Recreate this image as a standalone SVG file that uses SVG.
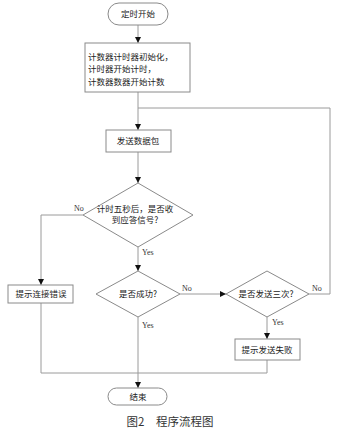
<svg xmlns="http://www.w3.org/2000/svg" width="339" height="436" viewBox="0 0 339 436">
<style>
.s{fill:#fff;stroke:#8a8a8a;stroke-width:1}
.l{fill:none;stroke:#9a9a9a;stroke-width:1}
.t{font-family:"Noto Sans CJK SC","Liberation Serif",serif;font-size:8.5px;fill:#222}
.c{text-anchor:middle}
.y{font-family:"Liberation Serif",serif;font-size:8px;fill:#333}
.cap{font-family:"Noto Sans CJK SC",sans-serif;font-size:11.5px;fill:#333;text-anchor:middle}
</style>
<defs>
<marker id="a" markerWidth="6" markerHeight="6" refX="6" refY="3" orient="auto" markerUnits="userSpaceOnUse">
<path d="M0,0L6,3L0,6z" fill="#111"/>
</marker>
</defs>
<rect width="339" height="436" fill="#fff"/>
<g id="connectors">
<path class="l" d="M138,25V43" marker-end="url(#a)"/>
<path class="l" d="M138,92V130" marker-end="url(#a)"/>
<path class="l" d="M138,152V183" marker-end="url(#a)"/>
<path class="l" d="M83,215H41V285" marker-end="url(#a)"/>
<path class="l" d="M138,247V271" marker-end="url(#a)"/>
<path class="l" d="M180,294H226" marker-end="url(#a)"/>
<path class="l" d="M309,294H330V108H138"/>
<path class="l" d="M267,317V339" marker-end="url(#a)"/>
<path class="l" d="M138,317V388" marker-end="url(#a)"/>
<path class="l" d="M41,303V373H267V360"/>
<text class="y" x="74" y="211">No</text>
<text class="y" x="142" y="255">Yes</text>
<text class="y" x="182" y="291">No</text>
<text class="y" x="312" y="291">No</text>
<text class="y" x="272" y="325">Yes</text>
<text class="y" x="142" y="328">Yes</text>
</g>
<g id="start">
<rect class="s" x="108" y="3" width="60" height="22" rx="11"/>
<text class="t c" x="138" y="17">定时开始</text>
</g>
<g id="init">
<rect class="s" x="85" y="43" width="105" height="49"/>
<text class="t" x="88" y="60">计数器计时器初始化，</text>
<text class="t" x="88" y="72">计时器开始计时，</text>
<text class="t" x="88" y="85">计数器数器开始计数</text>
</g>
<g id="send">
<rect class="s" x="106" y="130" width="65" height="22"/>
<text class="t c" x="138" y="144">发送数据包</text>
</g>
<g id="check1">
<path class="s" d="M138,183L193,215L138,247L83,215z"/>
<text class="t c" x="135" y="212">计时五秒后，是否收</text>
<text class="t c" x="135" y="223">到应答信号?</text>
</g>
<g id="err">
<rect class="s" x="8" y="285" width="65" height="18"/>
<text class="t c" x="41" y="297">提示连接错误</text>
</g>
<g id="check2">
<path class="s" d="M138,271L180,294L138,317L96,294z"/>
<text class="t c" x="138" y="297">是否成功?</text>
</g>
<g id="check3">
<path class="s" d="M267,271L309,294L267,317L226,294z"/>
<text class="t c" x="266" y="297">是否发送三次?</text>
</g>
<g id="fail">
<rect class="s" x="235" y="339" width="65" height="21"/>
<text class="t c" x="267" y="353">提示发送失败</text>
</g>
<g id="end">
<rect class="s" x="108" y="388" width="59" height="17" rx="8.5"/>
<text class="t c" x="138" y="400">结束</text>
</g>
<text class="cap" x="170" y="426">图2　程序流程图</text>
</svg>
